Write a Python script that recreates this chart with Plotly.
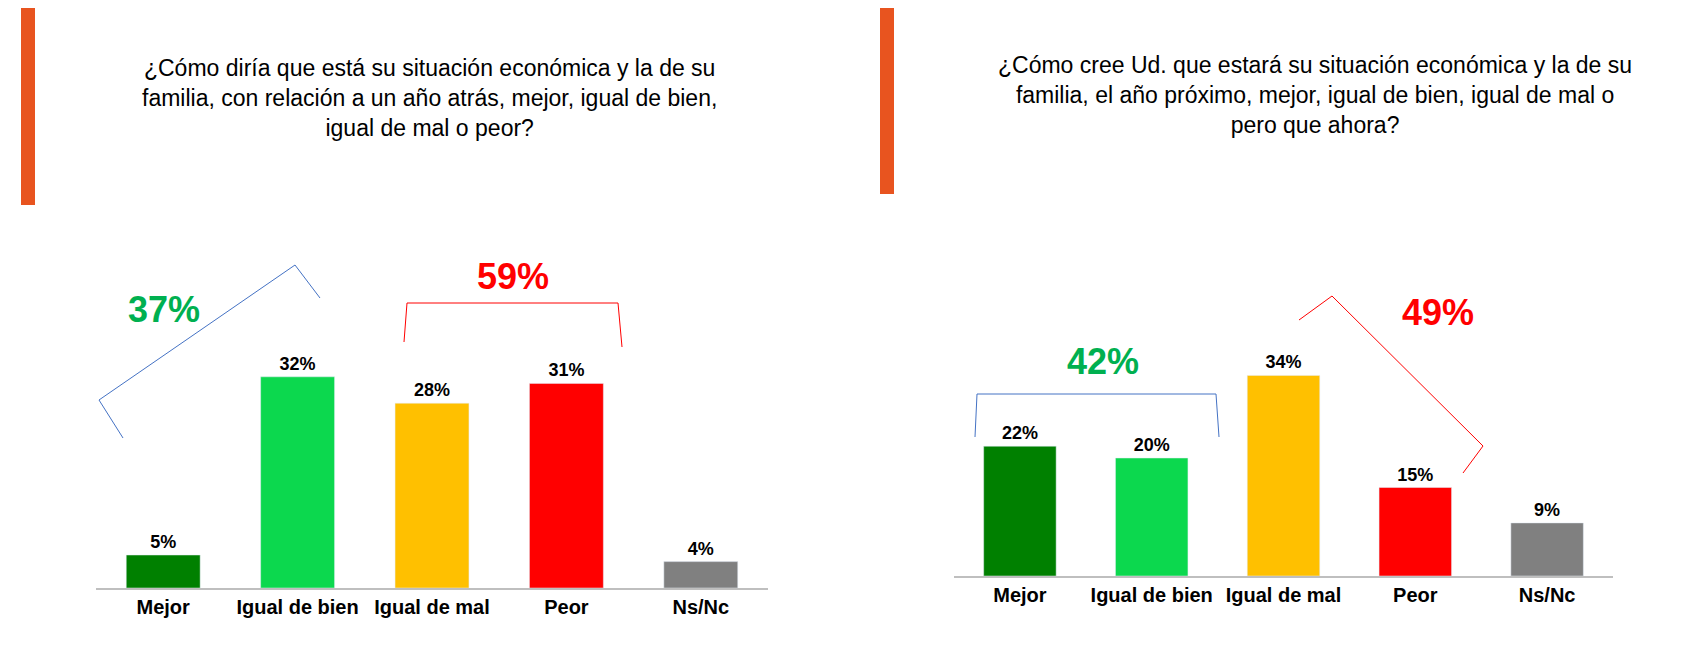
import plotly.graph_objects as go

categories = ["Mejor", "Igual de bien", "Igual de mal", "Peor", "Ns/Nc"]
values_left = [5, 32, 28, 31, 4]
values_right = [22, 20, 34, 15, 9]
colors_left = ["#008000", "#0CD84E", "#FFC000", "#FF0000", "#808080"]
colors_right = ["#008000", "#0CD84E", "#FFC000", "#FF0000", "#808080"]
title_left = "¿Cómo diría que está su situación económica y la de su<br>familia, con relación a un año atrás, mejor, igual de bien,<br>igual de mal o peor?"
title_right = "¿Cómo cree Ud. que estará su situación económica y la de su<br>familia, el año próximo, mejor, igual de bien, igual de mal o<br>pero que ahora?"

W, H = 1707, 652
def px(x): return x / W
def py(y): return 1 - y / H

fig = go.Figure()
fig.add_trace(go.Bar(x=categories, y=values_left, marker_color=colors_left,
                     text=[f"{v}%" for v in values_left], textposition="outside",
                     textfont=dict(size=18, color="black", family="Liberation Sans"),
                     cliponaxis=False, xaxis="x", yaxis="y"))
fig.add_trace(go.Bar(x=categories, y=values_right, marker_color=colors_right,
                     text=[f"{v}%" for v in values_right], textposition="outside",
                     textfont=dict(size=18, color="black", family="Liberation Sans"),
                     cliponaxis=False, xaxis="x2", yaxis="y2"))

axis_common = dict(showgrid=False, showline=True, linecolor="#BFBFBF", linewidth=2,
                   tickfont=dict(size=20, color="black", family="Liberation Sans"),
                   ticks="", range=[-0.5, 4.5])
fig.update_layout(
    width=W, height=H, margin=dict(l=0, r=0, t=0, b=0),
    plot_bgcolor="white", paper_bgcolor="white", showlegend=False, bargap=0.45,
    font=dict(family="Liberation Sans"),
    xaxis=dict(domain=[px(88), px(760)], anchor="y", **axis_common),
    yaxis=dict(domain=[py(580), py(316)], range=[0, 40], visible=False),
    xaxis2=dict(domain=[px(946), px(1605)], anchor="y2", **axis_common),
    yaxis2=dict(domain=[py(568), py(332)], range=[0, 40], visible=False),
)
fig.update_xaxes(tickprefix="<b>", ticksuffix="</b>")
fig.update_traces(texttemplate="<b>%{text}</b>")

def path(pts):
    return "M " + " L ".join(f"{px(x)} {py(y)}" for x, y in pts)

shapes = [
    dict(type="rect", xref="paper", yref="paper", x0=px(13), x1=px(27), y0=py(0), y1=py(197),
         fillcolor="#E8541F", line_width=0),
    dict(type="rect", xref="paper", yref="paper", x0=px(872), x1=px(886), y0=py(0), y1=py(186),
         fillcolor="#E8541F", line_width=0),
    dict(type="path", xref="paper", yref="paper", line=dict(color="#4472C4", width=1),
         path=path([(115, 430), (91, 392), (287, 257), (312, 290)])),
    dict(type="path", xref="paper", yref="paper", line=dict(color="#FF0000", width=1),
         path=path([(396, 334), (399, 295), (610, 295), (614, 339)])),
    dict(type="path", xref="paper", yref="paper", line=dict(color="#4472C4", width=1),
         path=path([(967, 429), (969, 386), (1208, 386), (1211, 429)])),
    dict(type="path", xref="paper", yref="paper", line=dict(color="#FF0000", width=1),
         path=path([(1291, 312), (1324, 288), (1475, 438), (1455, 465)])),
]
fig.update_layout(shapes=shapes)

ann = [
    dict(x=px(421), y=py(90), text=title_left, font=dict(size=23, color="black")),
    dict(x=px(1307), y=py(87), text=title_right, font=dict(size=23, color="black")),
    dict(x=px(156), y=py(301), text="<b>37%</b>", font=dict(size=36, color="#00B050")),
    dict(x=px(505), y=py(268), text="<b>59%</b>", font=dict(size=36, color="#FF0000")),
    dict(x=px(1095), y=py(353), text="<b>42%</b>", font=dict(size=36, color="#00B050")),
    dict(x=px(1430), y=py(304), text="<b>49%</b>", font=dict(size=36, color="#FF0000")),
]
for a in ann:
    fig.add_annotation(xref="paper", yref="paper", showarrow=False, align="center",
                       xanchor="center", yanchor="middle",
                       font_family="Liberation Sans", **a)

fig.write_html("out.html")
